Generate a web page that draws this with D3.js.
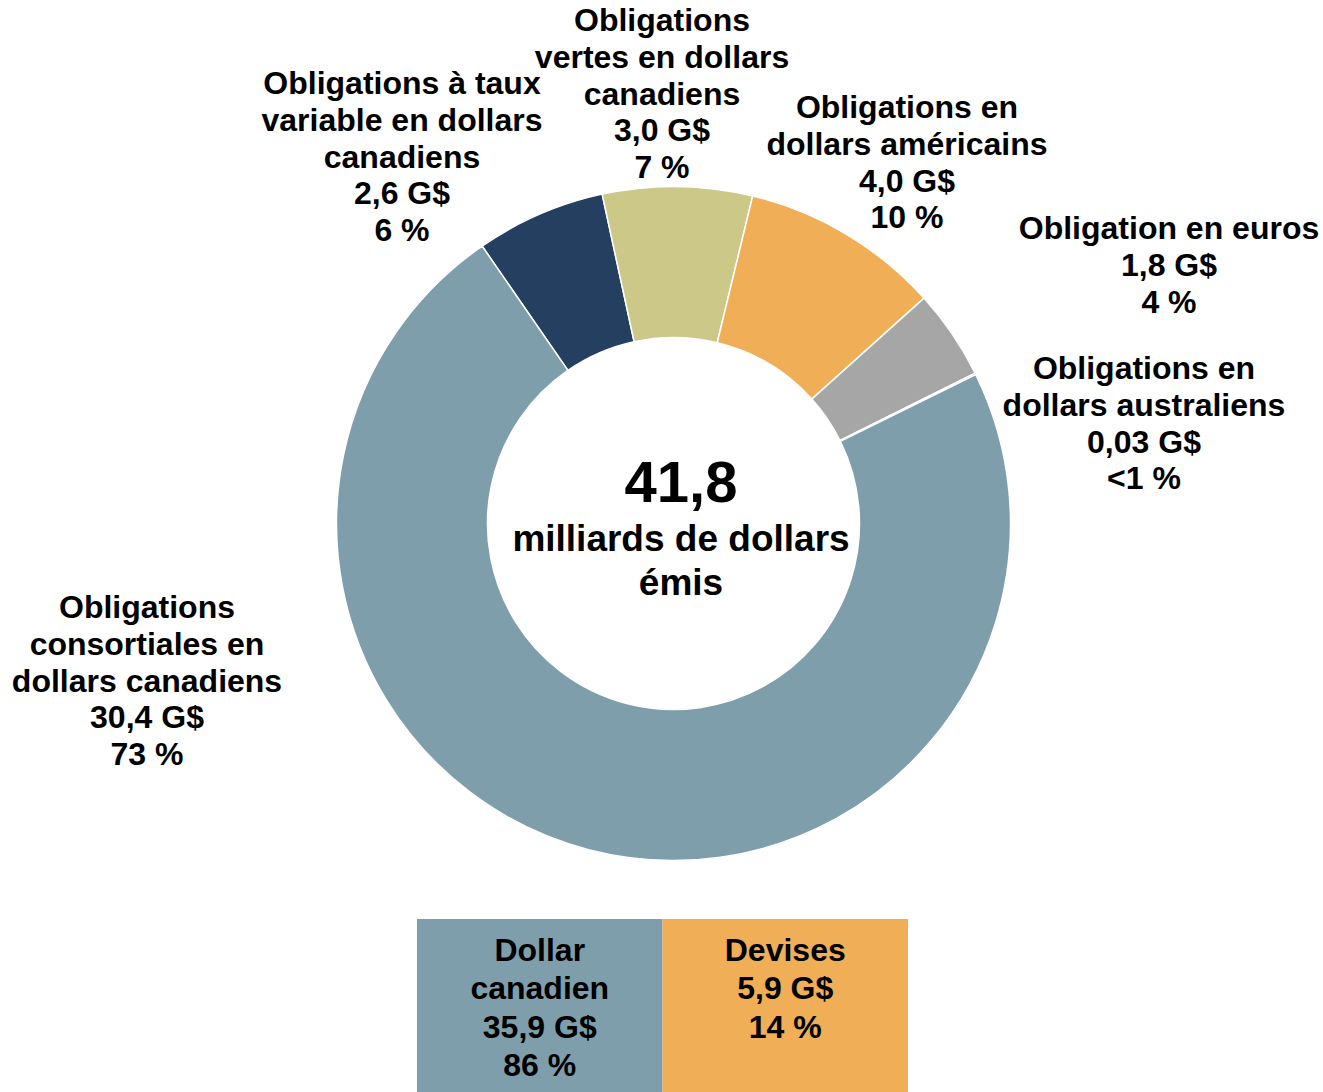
<!DOCTYPE html>
<html>
<head>
<meta charset="utf-8">
<script src="https://cdn.jsdelivr.net/npm/d3@7"></script>
<style>
  html, body { margin: 0; padding: 0; background: #fff; }
  svg text { font-family: "Liberation Sans", Arial, sans-serif; font-weight: bold; fill: #000; }
</style>
</head>
<body>
<svg id="chart" width="1323" height="1092"></svg>
<script>
// ---- data ----
const categories = [
  "Obligations à taux variable en dollars canadiens",
  "Obligations vertes en dollars canadiens",
  "Obligations en dollars américains",
  "Obligation en euros",
  "Obligations en dollars australiens",
  "Obligations consortiales en dollars canadiens"
];
const values = [2.6, 3.0, 4.0, 1.8, 0.03, 30.4];
const valueLabels = ["2,6 G$", "3,0 G$", "4,0 G$", "1,8 G$", "0,03 G$", "30,4 G$"];
const pctLabels = ["6 %", "7 %", "10 %", "4 %", "<1 %", "73 %"];
const nameLines = [
  ["Obligations à taux", "variable en dollars", "canadiens"],
  ["Obligations", "vertes en dollars", "canadiens"],
  ["Obligations en", "dollars américains"],
  ["Obligation en euros"],
  ["Obligations en", "dollars australiens"],
  ["Obligations", "consortiales en", "dollars canadiens"]
];
const colors = ["#243F5F", "#CCC888", "#F0AE57", "#A6A6A6", "#C0504D", "#7F9EAB"];
const totalLines = ["41,8", "milliards de dollars", "émis"];
const groupNames = [["Dollar", "canadien"], ["Devises"]];
const groupValues = ["35,9 G$", "5,9 G$"];
const groupPcts = ["86 %", "14 %"];
const groupColors = ["#7F9EAB", "#F0AE57"];

// ---- layout ----
const cx = 673.5, cy = 523.5, rOuter = 337, rInner = 186;
const startDeg = -34.6;
// label anchor: center x, baseline of first line
const labelPos = [[402, 94], [662, 31], [907, 118], [1169, 239], [1144, 379], [147, 618]];
const lineH = 36.8;

const svg = d3.select("#chart");
const g = svg.append("g").attr("transform", `translate(${cx},${cy})`);

const pie = d3.pie().sort(null).value(d => d)
  .startAngle(startDeg * Math.PI / 180)
  .endAngle(startDeg * Math.PI / 180 + 2 * Math.PI);
const arc = d3.arc().innerRadius(rInner).outerRadius(rOuter);

g.selectAll("path.slice").data(pie(values)).enter().append("path")
  .attr("class", "slice")
  .attr("d", arc)
  .attr("fill", (d, i) => colors[i])
  .attr("stroke", "#fff")
  .attr("stroke-width", 1.5);

// slice labels
categories.forEach((c, i) => {
  const lines = nameLines[i].concat([valueLabels[i], pctLabels[i]]);
  const t = svg.append("text")
    .attr("x", labelPos[i][0]).attr("y", labelPos[i][1])
    .attr("text-anchor", "middle").attr("font-size", 32);
  lines.forEach((l, j) => {
    t.append("tspan").attr("x", labelPos[i][0]).attr("y", labelPos[i][1] + j * lineH).text(l);
  });
});

// center text
svg.append("text").attr("x", 681).attr("y", 502).attr("text-anchor", "middle")
  .attr("font-size", 58).text(totalLines[0]);
svg.append("text").attr("x", 681).attr("y", 551).attr("text-anchor", "middle")
  .attr("font-size", 37).text(totalLines[1]);
svg.append("text").attr("x", 681).attr("y", 595).attr("text-anchor", "middle")
  .attr("font-size", 37).text(totalLines[2]);

// bottom boxes
const xBox = d3.scaleBand().domain([0, 1]).range([417, 908]).padding(0);
groupNames.forEach((names, i) => {
  const x0 = xBox(i), w = xBox.bandwidth();
  svg.append("rect").attr("x", x0).attr("y", 919).attr("width", w).attr("height", 1092 - 919)
    .attr("fill", groupColors[i]);
  const lines = names.concat([groupValues[i], groupPcts[i]]);
  const t = svg.append("text").attr("text-anchor", "middle").attr("font-size", 32);
  lines.forEach((l, j) => {
    t.append("tspan").attr("x", x0 + w / 2).attr("y", 961 + j * 38.3).text(l);
  });
});
</script>
</body>
</html>
